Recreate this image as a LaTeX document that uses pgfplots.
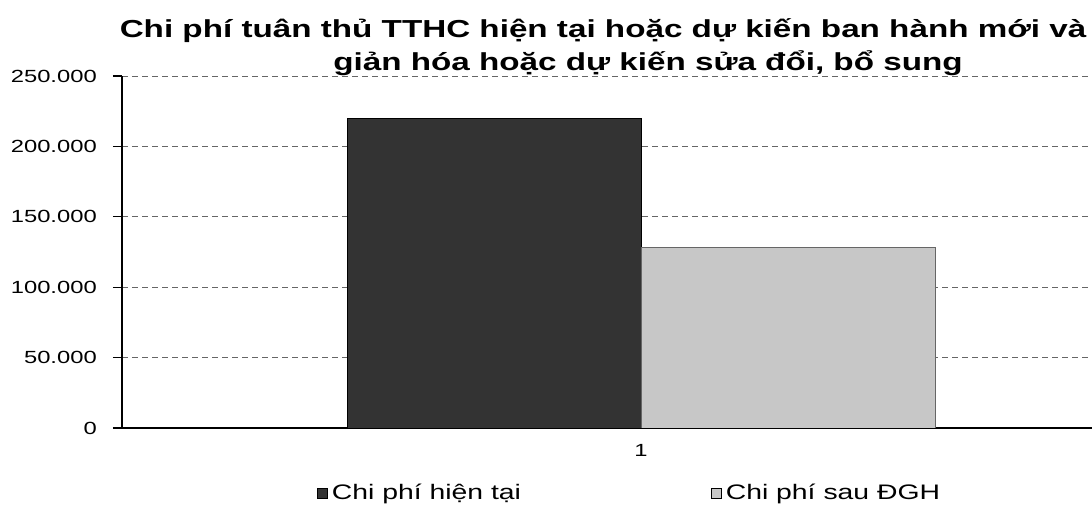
\documentclass[border=0pt]{standalone}
\usepackage{fontspec}
\setmainfont{Liberation Sans}[FakeStretch=1.35]
\usepackage{pgfplots}
\pgfplotsset{compat=1.18}
\begin{document}
\begin{tikzpicture}[x=1pt,y=1pt]
\useasboundingbox (0,0) rectangle (546,253.5);
\begin{axis}[
 at={(61pt,39.5pt)}, anchor=south west,
 scale only axis, width=519pt, height=176pt,
 ymin=0, ymax=250000, xmin=0, xmax=2,
 scaled y ticks=false,
 ytick={0,50000,100000,150000,200000,250000},
 yticklabels={0,50.000,100.000,150.000,200.000,250.000},
 xtick={1}, xticklabels={1},
 axis x line*=bottom, axis y line*=left,
 ymajorgrids, grid style={densely dashed, black!60, line width=0.4pt},
 ybar=0pt, bar width=147pt,
 tick align=outside, major tick length=4.5pt,
 ytick style={black, line width=0.6pt},
 xtick style={draw=none},
 ticklabel style={font=\fontsize{8.8}{10}\selectfont},
 yticklabel style={xshift=-4.6pt},
 title={Chi phí tuân thủ TTHC hiện tại hoặc dự kiến ban hành mới và sau đơn\hspace*{-25pt}\\giản hóa hoặc dự kiến sửa đổi, bổ sung},
 title style={font=\bfseries\fontsize{12.3}{16.5}\selectfont, align=center, at={(0.5067,1)}, anchor=south, inner sep=0pt, yshift=-6pt},
 legend style={draw=none, fill=none, at={(0.490,-0.185)}, anchor=center, legend columns=2,
   font=\fontsize{10.5}{12}\selectfont, /tikz/every even column/.append style={column sep=93pt}},
 legend image code/.code={\draw[#1, draw=black, line width=0.4pt] (0,-2.5pt) rectangle (5pt,2.5pt);},
 axis line style={black, line width=0.8pt},
]
\addplot[fill=black!80, draw=black] coordinates {(1,220000)};
\addplot[fill=black!22, draw=black!60] coordinates {(1,128000)};
\legend{Chi phí hiện tại, Chi phí sau ĐGH}
\end{axis}
\end{tikzpicture}
\end{document}
